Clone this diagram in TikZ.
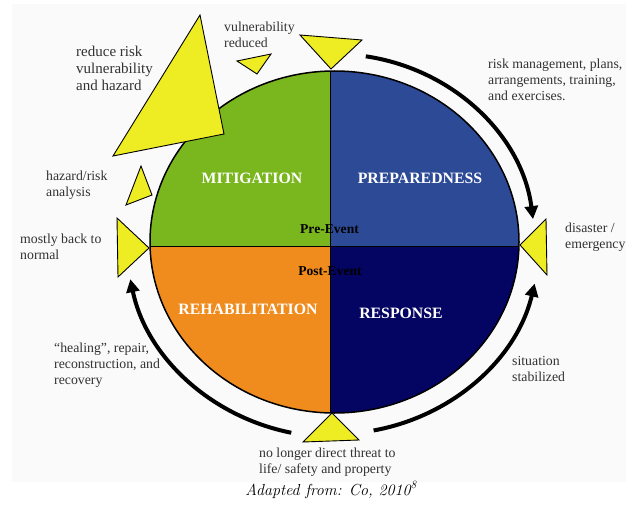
\documentclass[tikz,border=0pt]{standalone}
\usepackage{fontspec}
\setmainfont{Liberation Serif}
\newfontfamily\captionfont{Latin Modern Roman}
\usetikzlibrary{arrows.meta,calc}

\definecolor{mitgreen}{RGB}{122,182,30}
\definecolor{prepblue}{RGB}{44,74,150}
\definecolor{respnavy}{RGB}{4,4,98}
\definecolor{rehaborange}{RGB}{240,140,30}
\definecolor{markyellow}{RGB}{238,236,34}
\definecolor{labelgray}{RGB}{50,50,50}
\definecolor{panelgray}{RGB}{250,250,250}

\begin{document}
\begin{tikzpicture}[x=1pt,y=-1pt,
  phase/.style={text=white, inner sep=0pt, font=\bfseries\fontsize{15.8}{18}\selectfont},
  event/.style={text=black, inner sep=0pt, font=\bfseries\fontsize{13.6}{16}\selectfont},
  % notes are placed by the baseline of their last line
  note/.style={text=labelgray, inner sep=0pt, anchor=base west, align=left,
    font=\fontsize{13.8}{16}\selectfont},
  bignote/.style={note, font=\fontsize{15}{17.3}\selectfont},
  marker/.style={fill=markyellow, draw=black, line width=0.9pt, line join=miter},
  phasearrow/.style={line width=4pt, -{Triangle[length=13pt,width=13pt]}},
]
% page and panel
\useasboundingbox (0,0) rectangle (626,508);
\fill[white] (0,0) rectangle (626,508);
\fill[panelgray] (12,4) rectangle (626,482);

% the four phases of the cycle
\coordinate (hub) at (334.5,242);
\begin{scope}
  \clip (hub) ellipse [x radius=184.5, y radius=171];
  \fill[mitgreen]    (140,60)    rectangle (330.5,246);
  \fill[prepblue]    (330.5,60)  rectangle (530,246);
  \fill[rehaborange] (140,246)   rectangle (330.5,420);
  \fill[respnavy]    (330.5,246) rectangle (530,420);
  \draw[line width=1pt]   (140,246) -- (530,246);
  \draw[line width=1.6pt] (330.5,60) -- (330.5,420);
\end{scope}
\draw[line width=1.5pt] (hub) ellipse [x radius=184.5, y radius=171];

\node[phase] (mitigation)     at (252,178) {MITIGATION};
\node[phase] (preparedness)   at (420,178) {PREPAREDNESS};
\node[phase] (rehabilitation) at (248,309) {REHABILITATION};
\node[phase] (response)       at (401,313) {RESPONSE};
\node[event] (pre)  at (329.5,229) {Pre-Event};
\node[event] (post) at (330,271) {Post-Event};

% transition markers
\draw[marker] (200,15) -- (113,156) -- (224,134) -- cycle;
\draw[marker] (237,61) -- (271,54) -- (257,74) -- cycle;
\draw[marker] (300,35) -- (362,40) -- (331,69) -- cycle;
\draw[marker] (141,166) -- (126,205) -- (152,195) -- cycle;
\draw[marker] (117,218) -- (149,248) -- (118,277) -- cycle;
\draw[marker] (546,219) -- (520,245) -- (547,275) -- cycle;
\draw[marker] (332,413) -- (303,442) -- (359,440) -- cycle;

% flow of the cycle
\coordinate (toparc)   at ($(hub)+(-81:200 and 188)$);
\coordinate (rightarc) at ($(hub)+(79:205 and 192)$);
\coordinate (leftarc)  at ($(hub)+(102:208 and 195)$);
\draw[phasearrow] (toparc) arc[start angle=-81, end angle=-7, x radius=200, y radius=188];
\draw[phasearrow] (rightarc) arc[start angle=79, end angle=12.5, x radius=205, y radius=192];
\draw[phasearrow] (leftarc) arc[start angle=102, end angle=169, x radius=208, y radius=195];

% notes
\node[bignote] (reduce) at (76,91)  {reduce risk\\vulnerability\\and hazard};
\node[note] (vulnred)   at (224,48)  {vulnerability\\reduced};
\node[note] (hazard)    at (46,196)  {hazard/risk\\analysis};
\node[note] (normal)    at (20,259)  {mostly back to\\normal};
\node[note] (riskmgmt)  at (488,101) {risk management, plans,\\arrangements, training,\\and exercises.};
\node[note] (disaster)  at (565,248) {disaster /\\emergency};
\node[note] (healing)   at (54,384)  {“healing”, repair,\\reconstruction, and\\recovery};
\node[note] (stable)    at (512,381) {situation\\stabilized};
\node[note] (threat)    at (259,473) {no longer direct threat to\\life/ safety and property};

\node[inner sep=0pt, anchor=base, font=\captionfont\itshape\fontsize{16}{18}\selectfont]
  (source) at (331,495) {Adapted from: Co, 2010\textsuperscript{8}};
\end{tikzpicture}
\end{document}
